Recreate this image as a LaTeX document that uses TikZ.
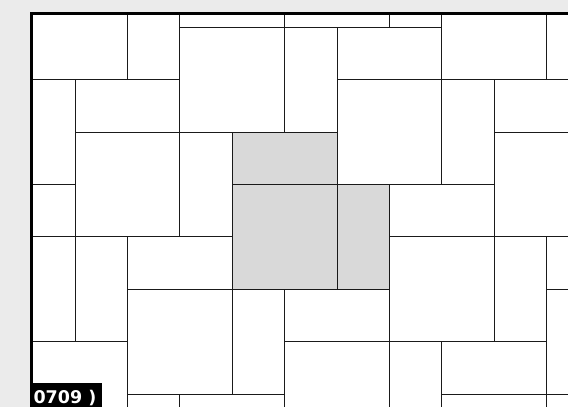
\documentclass[tikz,border=0pt]{standalone}
\usepackage{fontspec}
\newfontfamily\tagfont{DejaVu Sans}
\definecolor{bgc}{HTML}{EBEBEB}
\definecolor{shade}{HTML}{D9D9D9}
\definecolor{edge}{HTML}{1A1A1A}
\tikzset{
  tile/.style={draw=edge, line width=1pt},
  shadedtile/.style={fill=shade},
  frame/.style={draw=black, line width=3.3pt},
  tagbox/.style={fill=black, inner sep=0pt, minimum width=71.3pt, minimum height=24.3pt, anchor=south west},
  tagtext/.style={text=white, inner sep=0pt, anchor=base west, font=\tagfont\bfseries\fontsize{17.5}{20}\selectfont}
}
\begin{document}
\begin{tikzpicture}[x=1pt,y=-1pt]
\useasboundingbox (0,0) rectangle (568,407);
\fill[bgc] (0,0) rectangle (568,407);
\fill[white] (31.5,13.3) rectangle (568,407);
\begin{scope}
  \clip (33,15) rectangle (568,407);
  \begin{scope}[shift={(75pt,-27.3pt)}, x=52.4pt, y=-52.4pt]
    \foreach \a/\b/\c/\d in {3/2/5/3, 3/3/5/5, 5/3/6/5}
      \fill[shadedtile] (\a,\b) rectangle (\c,\d);
    \foreach \a/\b/\c/\d in {
      -1/-1/1/1, 1/-1/2/1, 2/-1/4/0, 4/-1/6/0, 6/-1/7/0,
      2/0/4/2, 4/0/5/2, 5/0/7/1, 7/-1/9/1, 9/-1/10/1,
      -1/1/0/3, 0/1/2/2, 0/2/2/4, 2/2/3/4, 3/2/5/3,
      5/1/7/3, 7/1/8/3, 8/1/10/2, 8/2/10/4,
      -1/3/0/4, 3/3/5/5, 5/3/6/5, 6/3/8/4,
      -1/4/0/6, 0/4/1/6, 1/4/3/5, 1/5/3/7, 3/5/4/7, 4/5/6/6,
      6/4/8/6, 8/4/9/6, 9/4/10/5, 9/5/10/7,
      -1/6/1/8, 1/7/2/8, 2/7/4/8, 4/6/6/8, 6/6/7/8,
      7/6/9/7, 7/7/9/8, 9/7/10/8}
      \draw[tile] (\a,\b) rectangle (\c,\d);
  \end{scope}
\end{scope}
\draw[frame] (31.5,407) -- (31.5,13.3) -- (568,13.3);
\node[tagbox] (tag) at (30,407) {};
\node[tagtext] (tagtext) at (33.3,403.7) {0709 )};
\end{tikzpicture}
\end{document}
